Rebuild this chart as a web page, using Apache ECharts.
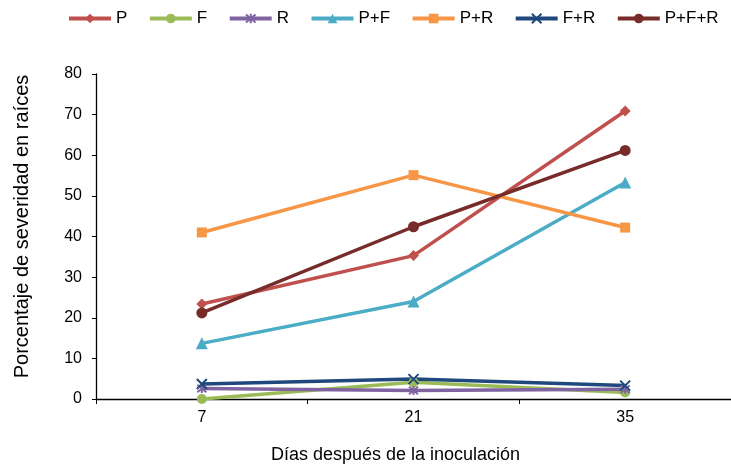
<!DOCTYPE html>
<html>
<head>
<meta charset="utf-8">
<script src="https://cdn.jsdelivr.net/npm/echarts@6/dist/echarts.min.js"></script>
<style>html,body{margin:0;padding:0;background:#fff;}#c{width:731px;height:469px;}</style>
</head>
<body>
<div id="c"></div>
<script>
var categories = ['7', '21', '35'];
var seriesNames = ['P', 'F', 'R', 'P+F', 'P+R', 'F+R', 'P+F+R'];
var valP = [23.4, 35.3, 70.9];
var valF = [0, 4.1, 1.6];
var valR = [2.6, 2.1, 2.4];
var valPF = [13.7, 24.0, 53.3];
var valPR = [41.0, 55.1, 42.2];
var valFR = [3.7, 4.9, 3.3];
var valPFR = [21.2, 42.4, 61.2];
var yTicks = {min: 0, max: 80, interval: 10};

var colors = ['#C0504D', '#9BBB59', '#8064A2', '#4BACC6', '#F79646', '#1F497D', '#772C2A'];
var symbols = ['diamond', 'circle', 'path://M0,0L10,10M10,0L0,10M5,-1L5,11', 'triangle', 'rect', 'path://M0,0L10,10M10,0L0,10', 'circle'];
var sizes = [11, 10, 9, 12, 10, 10, 11];
var values = [valP, valF, valR, valPF, valPR, valFR, valPFR];

var series = seriesNames.map(function (n, i) {
  var stroke = symbols[i].indexOf('path://') === 0;
  return {
    name: n,
    type: 'line',
    data: values[i],
    symbol: symbols[i],
    symbolSize: sizes[i],
    showAllSymbol: true,
    lineStyle: {width: 3.5, color: colors[i]},
    itemStyle: stroke ? {color: 'rgba(0,0,0,0)', borderColor: colors[i], borderWidth: 2} : {color: colors[i]},
    emphasis: {disabled: true},
    animation: false
  };
});

var chart = echarts.init(document.getElementById('c'));
chart.setOption({
  backgroundColor: '#fff',
  animation: false,
  color: colors,
  textStyle: {fontFamily: 'Liberation Sans, Arial, sans-serif'},
  legend: {
    left: 67, top: 10, width: 700, padding: 0,
    itemWidth: 42, itemHeight: 12, itemGap: 20.5,
    lineStyle: {width: 4},
    textStyle: {fontSize: 17, color: '#000', fontFamily: 'Liberation Sans'},
    data: seriesNames
  },
  grid: {left: 96, top: 74, width: 642, bottom: 65.5, containLabel: false},
  xAxis: {
    type: 'category',
    data: categories,
    boundaryGap: true,
    axisLine: {lineStyle: {color: '#000', width: 1.3}},
    axisTick: {show: true, length: 5, lineStyle: {color: '#000'}},
    axisLabel: {color: '#000', fontSize: 16, margin: 11, fontFamily: 'Liberation Sans'},
    splitLine: {show: false},
    name: 'Días después de la inoculación',
    nameLocation: 'middle',
    nameGap: 47,
    nameTextStyle: {fontSize: 18, color: '#000', padding: [0, 36, 0, 0], fontFamily: 'Liberation Sans'}
  },
  yAxis: {
    type: 'value',
    min: yTicks.min, max: yTicks.max, interval: yTicks.interval,
    axisLine: {show: true, lineStyle: {color: '#000', width: 1.3}},
    axisTick: {show: true, length: 4, lineStyle: {color: '#000'}},
    axisLabel: {color: '#000', fontSize: 16, margin: 14, fontFamily: 'Liberation Sans'},
    splitLine: {show: false},
    name: 'Porcentaje de severidad en raíces',
    nameLocation: 'middle',
    nameGap: 64,
    nameTextStyle: {fontSize: 20, color: '#000', padding: [0, 0, 0, 20], fontFamily: 'Liberation Sans'}
  },
  series: series
});
</script>
</body>
</html>
